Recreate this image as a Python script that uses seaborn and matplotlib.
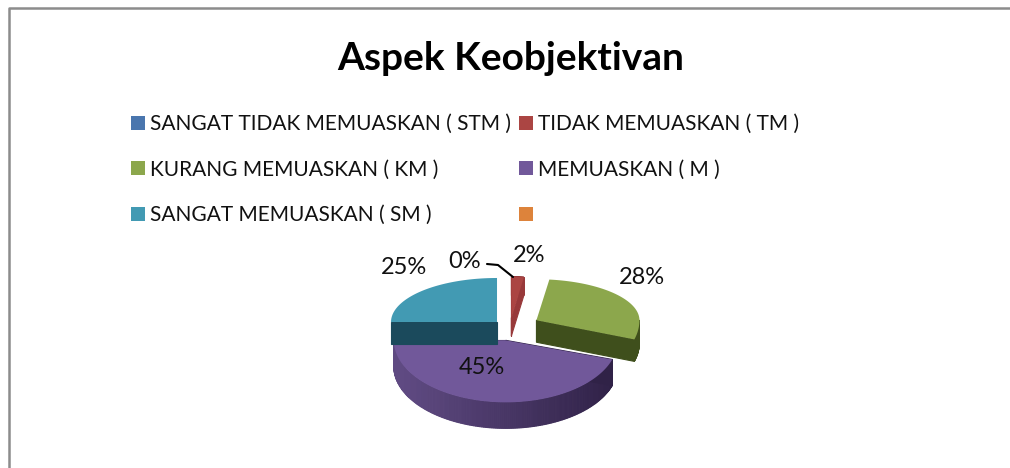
import numpy as np
import matplotlib
matplotlib.use('Agg')
import matplotlib.pyplot as plt
import seaborn as sns

# --- data ---
title = 'Aspek Keobjektivan'
categories = ['SANGAT TIDAK MEMUASKAN ( STM )', 'TIDAK MEMUASKAN ( TM )',
              'KURANG MEMUASKAN ( KM )', 'MEMUASKAN ( M )',
              'SANGAT MEMUASKAN ( SM )', '']
values = [0, 2, 28, 45, 25, 0]
hex_colors = ['#4a76ae', '#ab4543', '#8ca74c', '#71589a', '#429ab3', '#dd833b']
side_colors = ['#2d4a70', '#98393a', '#3f4f1c', '#4a3866', '#1b4a5c', '#8a4f20']

# pie look (pixels)
PIE_CX, PIE_CY = 510, 328
RX_SLICE = [105, 100, 103, 112, 106, 105]
RY_BACK = [43, 41, 41, 43, 44, 43]
RY_FRONT = 62
RX_OFFSET, RY_OFFSET = 108, 50
explode = [0.1, 0.2, 0.29, 0.25, 0.17, 0.1]
depths = [20, 18, 22, 26, 22, 20]
draw_order = [3, 4, 1, 2]

sns.set_style('white')
plt.rcParams['font.family'] = ['Lato', 'DejaVu Sans']
palette = sns.color_palette(hex_colors)
purple_side = sns.blend_palette(['#5f4a82', '#2f2146'], 40)

fig = plt.figure(figsize=(10.10, 4.68), dpi=100)
ax = fig.add_axes([0, 0, 1, 1])

wedges, _ = ax.pie(values, colors=palette, startangle=90, counterclock=False,
                   explode=explode, wedgeprops={'linewidth': 0})
ax.set_aspect('auto')
ax.set_xlim(0, 1010)
ax.set_ylim(468, 0)
ax.axis('off')


def outline(i):
    """top face of a slice, squashed to the tilted view, in pixels"""
    w = wedges[i]
    t = np.radians(np.linspace(w.theta1, w.theta2, 160))
    xs = np.cos(t)
    ys = np.sin(t)
    ox = PIE_CX + w.center[0] * RX_OFFSET
    oy = PIE_CY - w.center[1] * RY_OFFSET
    px = ox + xs * RX_SLICE[i]
    py = oy - ys * np.where(ys > 0, RY_BACK[i], RY_FRONT)
    return np.r_[ox, px, ox], np.r_[oy, py, oy]


for i in draw_order:
    px, py = outline(i)
    d = depths[i]
    z = 2 + draw_order.index(i)
    # side walls first, the purple one gets darker towards the right
    for k in range(len(px) - 1):
        # walls behind the top face can't be seen (the thin red slice keeps them)
        if i != 1 and (py[k] + py[k + 1]) / 2 < py[0] - 0.01:
            continue
        col = side_colors[i]
        if i == 3:
            f = np.clip((px[k] - 400) / 215, 0, 1)
            col = purple_side[int(f * 39)]
        ax.fill([px[k], px[k + 1], px[k + 1], px[k]],
                [py[k], py[k + 1], py[k + 1] + d, py[k] + d],
                color=col, lw=0.8, zorder=z)
    ax.fill(px, py, color=palette[i], lw=0, zorder=z + 0.5)

for w in wedges:
    w.remove()

# percent labels
label_xy = [(465, 261), (529, 255), (642, 278), (482, 367), (404, 267)]
for v, (x, y) in zip(values, label_xy):
    ax.text(x, y, f'{v}%', fontsize=17, ha='center', va='center', color='#111111', zorder=20)
ax.plot([487, 498, 513], [264, 265, 277], color='black', lw=1.5, zorder=20)

ax.text(511, 59, title, fontsize=28, fontweight='bold', ha='center', va='center', color='black')

# matplotlib fills legend columns first, reference reads row by row
leg_order = [0, 2, 4, 1, 3, 5]
leg = ax.legend([wedges[i] for i in leg_order], [categories[i] for i in leg_order],
                ncol=2, loc='upper left',
                bbox_to_anchor=(131 / 1010, 1 - 114 / 468), frameon=False,
                fontsize=15, handlelength=0.67, handleheight=0.67, handletextpad=0.25,
                labelspacing=1.23, columnspacing=0.38, borderpad=0, borderaxespad=0)
for t in leg.get_texts():
    t.set_color('#111111')

# outer frame
ax.plot([8.5, 8.5, 1010], [468, 7.5, 7.5], color='#8c8c8c', lw=1.8, zorder=1)

fig.savefig('out.png', dpi=100)
